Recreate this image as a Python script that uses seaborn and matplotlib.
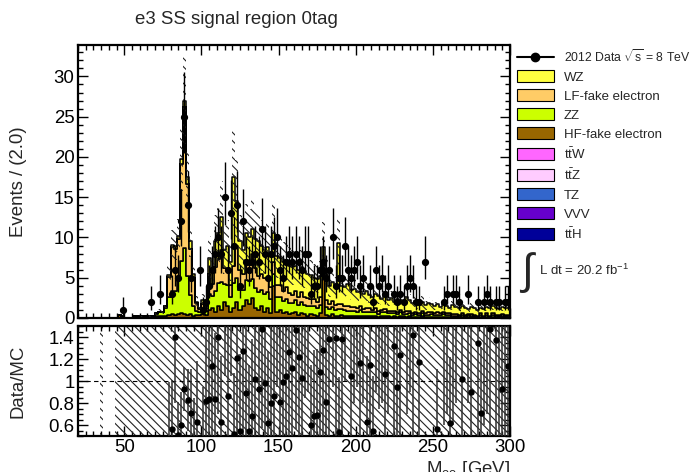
import numpy as np
import pandas as pd
import matplotlib
matplotlib.use("Agg")
import matplotlib.pyplot as plt
import seaborn as sns
from matplotlib.patches import Patch
from matplotlib.lines import Line2D
from matplotlib.ticker import MultipleLocator, FuncFormatter

# ---------------- data ----------------
x_min, x_max, bin_width = 20, 300, 2

hf_fake = [0, 0, 0, 0, 0, 0, 0, 0, 0, 0,
           0, 0, 0, 0.4, 0.3, 0, 0, 0, 0, 0,
           0, 0, 0, 0, 0, 0.2, 0.3, 0.3, 0.3, 0.4,
           0.5, 0.4, 0.5, 0.6, 0.5, 0.4, 0.5, 0.3, 0.4, 0.4,
           0.5, 0.4, 1.0, 1.2, 0.8, 1.5, 1.0, 2.0, 1.5, 0.8,
           1.2, 2.0, 1.0, 1.5, 2.2, 1.8, 2.5, 1.2, 1.0, 1.5,
           0.8, 1.2, 0.6, 4.0, 0.8, 1.0, 0.6, 0.7, 0.5, 0.6,
           0.8, 0.4, 0.6, 0.5, 0.3, 0.5, 0.4, 0.3, 0.6, 5.5,
           0.4, 0.3, 0.5, 0.3, 0.3, 0.4, 0.2, 0.3, 0.2, 0.3,
           0.2, 0.3, 0.2, 0.2, 0.3, 0.2, 0.2, 0.1, 0.2, 0.2,
           0.2, 0.1, 0.2, 0.1, 0.2, 0.2, 0.1, 0.2, 0.1, 0.1,
           0.1, 0.2, 0.1, 0.1, 0.1, 0.1, 0.1, 0.1, 0.1, 0.1,
           0.1, 0, 0.1, 0, 0.1, 0, 0.1, 0, 0.1, 0,
           0.1, 0, 0.1, 0, 0.1, 0, 0.1, 0, 0.1, 0]

zz = [0, 0, 0, 0, 0, 0, 0, 0, 0, 0,
      0, 0, 0, 0, 0, 0, 0, 0, 0, 0,
      0, 0, 0, 0, 0, 0.3, 0.5, 0.5, 1.0, 2.2,
      2.8, 3.0, 4.5, 6.5, 8.2, 4.8, 2.3, 1.2, 0.5, 0.4,
      0.6, 0.5, 2.0, 1.5, 2.5, 2.8, 3.5, 2.2, 2.6, 1.8,
      3.2, 3.0, 2.5, 2.0, 2.5, 2.8, 2.4, 2.5, 2.2, 2.0,
      2.2, 2.0, 1.8, 1.5, 1.8, 1.6, 1.5, 1.7, 1.4, 1.3,
      1.4, 1.2, 1.4, 1.1, 1.2, 1.0, 1.1, 0.9, 1.0, 0.8,
      1.0, 0.8, 0.9, 0.7, 0.8, 0.7, 0.8, 0.6, 0.7, 0.6,
      0.6, 0.7, 0.5, 0.6, 0.5, 0.5, 0.6, 0.4, 0.5, 0.5,
      0.4, 0.5, 0.4, 0.4, 0.5, 0.3, 0.4, 0.4, 0.3, 0.4,
      0.3, 0.4, 0.3, 0.3, 0.4, 0.3, 0.3, 0.3, 0.4, 0.3,
      0.3, 0.3, 0.2, 0.3, 0.3, 0.2, 0.3, 0.3, 0.2, 0.2,
      0.3, 0.2, 0.3, 0.2, 0.3, 0.3, 0.2, 0.3, 0.2, 0.3]

lf_fake = [0, 0, 0, 0, 0, 0, 0, 0, 0, 0,
           0, 0, 0, 0, 0, 0, 0, 0, 0, 0,
           0, 0, 0, 0, 0, 0.1, 0, 0, 0.2, 2.5,
           5.5, 5.2, 4.8, 12.0, 17.5, 11.5, 5.8, 3.5, 1.0, 0.3,
           0.6, 0.3, 2.5, 1.5, 3.0, 3.0, 4.0, 2.0, 2.0, 1.5,
           2.0, 4.0, 2.5, 2.0, 2.5, 2.0, 3.0, 2.5, 2.0, 2.0,
           2.0, 1.8, 1.5, 1.5, 1.5, 1.5, 1.3, 1.4, 1.2, 1.0,
           1.2, 1.0, 1.2, 1.0, 1.0, 0.9, 0.9, 0.8, 1.0, 0.8,
           0.8, 0.6, 0.7, 0.6, 0.6, 0.6, 0.5, 0.6, 0.5, 0.5,
           0.4, 0.5, 0.4, 0.5, 0.4, 0.3, 0.4, 0.4, 0.3, 0.4,
           0.3, 0.3, 0.3, 0.3, 0.3, 0.2, 0.4, 0.3, 0.2, 0.3,
           0.2, 0.3, 0.2, 0.3, 0.2, 0.2, 0.3, 0.2, 0.2, 0.2,
           0.2, 0.2, 0.2, 0.1, 0.2, 0.2, 0.1, 0.2, 0.1, 0.1,
           0.2, 0.1, 0.2, 0.1, 0.2, 0.1, 0.1, 0.2, 0.1, 0.1]

wz = [0, 0, 0, 0, 0, 0, 0, 0, 0, 0,
      0, 0, 0, 0, 0, 0, 0, 0, 0, 0,
      0, 0, 0, 0, 0, 0, 0, 0, 0, 0.3,
      0.3, 0.4, 0.4, 0.6, 0.8, 0.8, 0.9, 0.5, 0.1, 0.1,
      0.5, 0.3, 2.0, 1.8, 3.2, 3.2, 4.1, 2.3, 2.9, 2.9,
      11.1, 5.5, 3.5, 3.0, 3.3, 3.4, 3.1, 3.6, 4.4, 3.5,
      3.5, 3.8, 4.1, 3.6, 3.6, 3.4, 3.6, 3.4, 3.4, 3.4,
      3.1, 3.4, 3.1, 3.2, 3.0, 2.9, 2.6, 2.8, 2.6, 1.7,
      3.3, 2.3, 2.4, 2.2, 7.6, 2.3, 2.3, 2.7, 2.1, 2.2,
      2.0, 1.9, 1.9, 2.0, 1.7, 1.6, 1.8, 1.8, 1.4, 1.7,
      1.3, 1.6, 1.1, 1.6, 1.2, 1.3, 1.7, 1.3, 1.3, 1.3,
      1.2, 1.1, 1.0, 1.2, 1.0, 0.9, 1.1, 0.8, 1.0, 0.9,
      0.7, 1.1, 0.9, 0.8, 0.9, 0.9, 0.6, 0.9, 0.8, 0.7,
      0.7, 0.8, 0.8, 0.9, 0.9, 0.9, 0.7, 0.9, 0.8, 0.9]

ttz = [0, 0, 0, 0, 0, 0, 0, 0, 0, 0,
       0, 0, 0, 0, 0, 0, 0, 0, 0.2, 0.3,
       0.2, 0.3, 0.2, 0.3, 0.3] + [0.0] * 115
ttw = [0.0] * 140
tz = [0.0] * 140
vvv = [0.0] * 140
tth = [0.0] * 140

# relative MC uncertainty (hatched band), by x segments
unc_edges = [20, 76, 96, 300]
unc_rel = [0.4, 0.2, 0.35]

# data (bin centres, event counts)
data_x = [49, 67, 73, 81, 83, 85, 87, 89, 91, 93, 99, 101, 103, 105, 107, 109,
          111, 113, 115, 117, 119, 121, 123, 125, 127, 129, 131, 133, 135, 137,
          139, 141, 143, 145, 147, 149, 151, 153, 155, 157, 159, 161, 163, 165,
          167, 169, 171, 173, 175, 177, 179, 181, 183, 185, 187, 189, 191, 193,
          195, 197, 199, 201, 203, 205, 209, 211, 213, 215, 217, 219, 221, 225,
          227, 229, 231, 233, 235, 237, 239, 241, 245, 257, 259, 263, 265, 267,
          273, 279, 283, 285, 287, 291, 293, 297, 299]
data_n = [1, 2, 3, 3, 6, 5, 12, 25, 14, 5, 6, 1, 2, 4, 6, 8,
          10, 8, 15, 6, 13, 9, 14, 4, 12, 7, 6, 7, 8, 7,
          11, 8, 5, 8, 9, 10, 6, 5, 7, 8, 7, 8, 7, 6,
          8, 8, 3, 4, 4, 6, 7, 5, 6, 10, 4, 5, 5, 9,
          6, 5, 6, 7, 4, 5, 4, 2, 6, 4, 5, 3, 4, 3,
          2, 3, 2, 4, 5, 4, 2, 2, 7, 2, 3, 3, 3, 2,
          3, 2, 2, 3, 2, 2, 2, 2, 2]

# ratio panel (Data/MC); some lie outside the
# visible 0.5-1.5 window and only their error bars cross it
ratio_x = [79, 81, 83, 85, 87, 89, 91, 93, 95, 97, 101, 103, 105, 107, 109,
           111, 113, 115, 117, 119, 121, 123, 125, 127, 129, 131, 133, 135,
           137, 139, 141, 143, 145, 147, 149, 151, 153, 155, 157, 159, 161,
           163, 165, 167, 169, 171, 173, 175, 177, 179, 181, 183, 185, 187,
           189, 191, 193, 197, 199, 201, 203, 205, 207, 209, 211, 213, 215,
           217, 219, 221, 225, 227, 229, 233, 235, 237, 241, 253, 257, 259,
           261, 263, 265, 269, 273, 275, 279, 281, 283, 285, 287, 291, 293,
           295, 297, 299]
ratio_y = [0.22, 0.56, 1.40, 0.505, 0.60, 0.93, 0.83, 0.71, 0.35, 0.63, 0.40,
           0.82, 0.84, 1.14, 0.84, 1.40, 0.63, 1.70, 0.86, 1.65, 0.52, 1.21,
           0.55, 1.27, 0.89, 0.55, 0.68, 1.02, 0.93, 1.47, 0.98, 0.62, 0.80,
           0.86, 1.55, 0.81, 0.99, 1.05, 1.26, 1.12, 1.46, 1.22, 1.03, 1.60,
           1.70, 0.60, 0.68, 0.69, 1.08, 1.28, 0.81, 1.38, 1.80, 1.39, 0.54,
           1.38, 1.90, 1.05, 1.60, 1.90, 1.16, 1.60, 0.63, 1.15, 0.55, 1.80,
           1.60, 1.70, 1.06, 1.60, 1.32, 0.95, 1.24, 1.70, 1.90, 1.42, 1.17,
           0.56, 1.60, 1.80, 0.62, 1.70, 1.90, 1.02, 1.90, 0.90, 1.35, 0.71,
           1.70, 1.80, 1.47, 1.37, 1.60, 0.93, 1.60, 1.14]
ratio_err = [0.77, 0.45, 0.6, 0.3, 0.3, 0.2, 0.28, 0.4, 0.5, 0.55, 0.55,
             0.7, 0.7, 0.75, 0.6, 0.7, 0.6, 0.65, 0.7, 0.6, 0.55, 0.75,
             0.7, 0.8, 0.7, 0.6, 0.7, 0.8, 0.7, 0.9, 0.75, 0.65, 0.7,
             0.7, 0.6, 0.7, 0.8, 0.8, 0.85, 0.8, 0.9, 0.85, 0.8, 0.75,
             0.8, 0.55, 0.6, 0.6, 0.8, 0.85, 0.7, 0.9, 0.85, 0.95, 0.5,
             0.95, 0.9, 0.85, 0.8, 0.95, 0.85, 0.8, 0.6, 0.85, 0.5, 0.9,
             0.85, 0.9, 0.9, 0.9, 0.95, 0.8, 0.9, 1.0, 1.0, 1.0, 0.95,
             0.55, 1.0, 1.1, 0.6, 1.1, 1.1, 0.9, 1.1, 0.8, 1.0, 0.6,
             1.1, 1.1, 1.0, 1.0, 1.1, 0.8, 1.1, 0.9]
ratio_band_ranges = [(34, 36), (44, 300)]

order = ["WZ", "LF-fake electron", "ZZ", "HF-fake electron",
         "ttW", "ttZ", "TZ", "VVV", "ttH"]
labels = ["WZ", "LF-fake electron", "ZZ", "HF-fake electron",
          r"t$\mathrm{\bar{t}}$W", r"t$\mathrm{\bar{t}}$Z", "TZ", "VVV",
          r"t$\mathrm{\bar{t}}$H"]
colors = ["#ffff40", "#ffcc66", "#ccff00", "#996600",
          "#ff66ff", "#ffccff", "#3366cc", "#6600cc", "#000099"]
series = [wz, lf_fake, zz, hf_fake, ttw, ttz, tz, vvv, tth]

# ---------------- figure ----------------
sns.set_theme(style="ticks")
plt.rcParams["font.family"] = ["Liberation Sans", "DejaVu Sans"]
plt.rcParams["mathtext.fontset"] = "custom"
plt.rcParams["mathtext.rm"] = "Liberation Sans"
plt.rcParams["mathtext.it"] = "Liberation Sans:italic"
plt.rcParams["mathtext.bf"] = "Liberation Sans:bold"
plt.rcParams["hatch.linewidth"] = 0.8

W, H = 699, 472
fig = plt.figure(figsize=(W / 100, H / 100), dpi=100)
ax = fig.add_axes([78 / W, 1 - 318 / H, 432 / W, 273 / H])
axr = fig.add_axes([78 / W, 1 - 436 / H, 432 / W, 110 / H])

edges = np.arange(x_min, x_max + bin_width, bin_width)
centers = edges[:-1] + bin_width / 2

rows = []
for name, vals in zip(order, series):
    for c, v in zip(centers, vals):
        rows.append((c, v, name))
df = pd.DataFrame(rows, columns=["x", "w", "comp"])

sns.histplot(data=df, x="x", weights="w", hue="comp", hue_order=order,
             palette=dict(zip(order, colors)), multiple="stack",
             binwidth=bin_width, binrange=(x_min, x_max),
             element="step", alpha=1, edgecolor="black", linewidth=1.1,
             legend=False, ax=ax)

total = np.sum(np.array(series, dtype=float), axis=0)
rel = np.array(unc_rel)[np.clip(np.searchsorted(unc_edges, centers) - 1, 0, len(unc_rel) - 1)]
hi = np.append(total * (1 + rel), total[-1] * (1 + rel[-1]))
lo = np.append(total * (1 - rel), total[-1] * (1 - rel[-1]))
ax.fill_between(edges, lo, hi, step="post", facecolor="none",
                edgecolor="#222222", hatch="\\\\\\\\", linewidth=0, zorder=3)

dn = np.array(data_n, dtype=float)
err_up = np.sqrt(dn + 0.25) + 0.5
err_dn = np.sqrt(dn + 0.25) - 0.5
ax.errorbar(data_x, data_n, yerr=[err_dn, err_up], fmt="o", color="black",
            ms=4.2, elinewidth=1.0, capsize=0, zorder=5)

ax.set_xlim(x_min, x_max)
ax.set_ylim(0, 33.9)
ax.set_xlabel("")
ax.set_ylabel("Events / (2.0)", fontsize=13.4)
ax.yaxis.set_label_coords(-51 / 432, 0.5)

# ratio panel
for a, b in ratio_band_ranges:
    axr.fill_between([a, b], 0, 2, facecolor="none", edgecolor="#222222",
                     hatch="\\\\\\\\", linewidth=0, zorder=1)
axr.axhline(1, ls=(0, (4, 3)), color="black", lw=0.8, zorder=2)
axr.errorbar(ratio_x, ratio_y, yerr=ratio_err, fmt="o", color="black",
             ecolor="#303030", ms=3.6, elinewidth=1.1, capsize=0, zorder=4)
axr.set_xlim(x_min, x_max)
axr.set_ylim(0.5, 1.5)
axr.set_ylabel("Data/MC", fontsize=13.4)
axr.yaxis.set_label_coords(-51 / 432, 0.5)
axr.yaxis.set_major_formatter(FuncFormatter(lambda v, p: f"{v:g}"))

for a in (ax, axr):
    a.tick_params(which="both", direction="in", top=True, right=True,
                  labelsize=13.4, width=1.0, pad=2.5, colors="black")
    a.tick_params(which="major", length=7)
    a.tick_params(which="minor", length=3.5)
    a.xaxis.set_major_locator(MultipleLocator(50))
    a.xaxis.set_minor_locator(MultipleLocator(5))
    for s in a.spines.values():
        s.set_linewidth(1.6)
        s.set_color("black")
ax.yaxis.set_major_locator(MultipleLocator(5))
ax.yaxis.set_minor_locator(MultipleLocator(1))
ax.tick_params(labelbottom=False)
axr.yaxis.set_major_locator(MultipleLocator(0.2))
axr.yaxis.set_minor_locator(MultipleLocator(0.05))

# legend
handles = [Line2D([], [], color="black", marker="o", ms=6, lw=1.5)]
handles += [Patch(facecolor=c, edgecolor="black", linewidth=0.8) for c in colors]
leg_labels = [r"2012 Data $\sqrt{\mathrm{s}}$ = 8 TeV"] + labels
leg = fig.legend(handles, leg_labels, loc="upper left",
                 bbox_to_anchor=(517 / W, 1 - 48 / H), frameon=False,
                 fontsize=9.5, handlelength=2.8, handleheight=1.0,
                 labelspacing=0.42, handletextpad=0.75, borderpad=0,
                 borderaxespad=0)
leg.get_texts()[0].set_fontsize(8.8)

fig.text(527 / W, 1 - 273 / H, "\u222b", fontsize=31, ha="center", va="center")
fig.text(539 / W, 1 - 270 / H, r"L dt = 20.2 fb$^{\mathrm{-1}}$", fontsize=9.5,
         ha="left", va="center")

fig.text(135 / W, 1 - 20 / H, "e3 SS signal region 0tag", fontsize=13.4,
         ha="left", va="center")
fig.text(510 / W, 1 - 459 / H, r"M$_{\mathrm{ee}}$ [GeV]", fontsize=13.4,
         ha="right", va="top")

fig.savefig("out.png", dpi=100)
